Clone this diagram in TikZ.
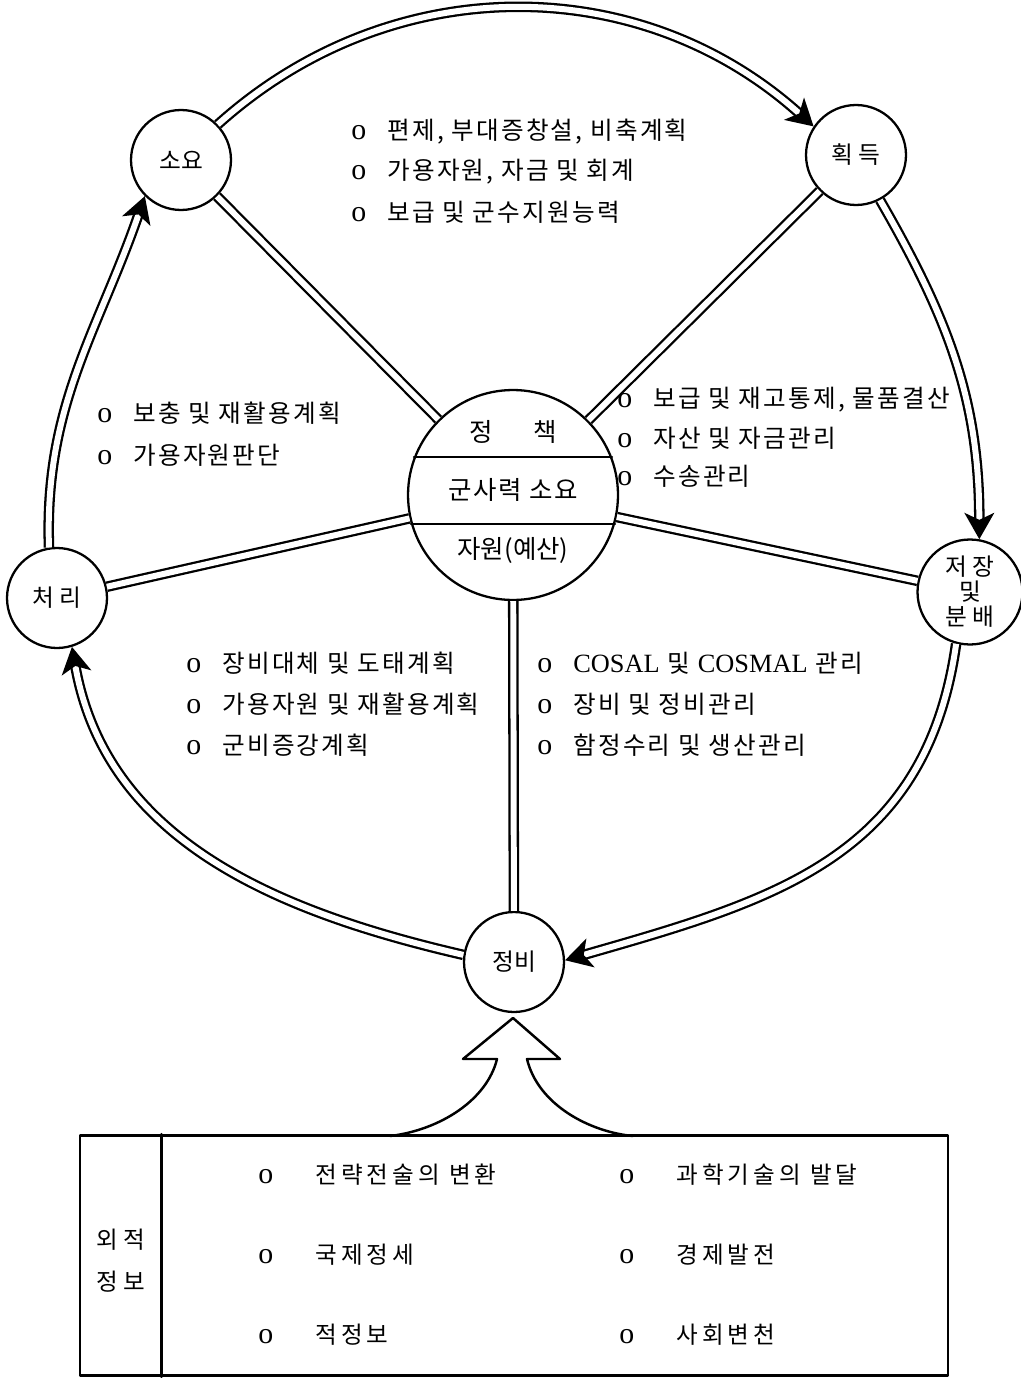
\documentclass[tikz,border=0pt]{standalone}
\usepackage{fontspec}
\setmainfont{Noto Sans CJK KR}
\newfontfamily\latin{Liberation Serif}
\usetikzlibrary{arrows.meta,calc}
\tikzset{
  stage/.style={draw, circle, line width=1.3pt, minimum size=2cm, inner sep=0pt, font=\fontsize{13.5}{14.2}\selectfont},
  spoke/.style={double, double distance=3.4pt, line width=1.3pt, line cap=butt},
  ring/.style={spoke, -{Stealth[length=15pt,width=17pt,inset=4pt]}},
  item/.style={anchor=west, inner sep=0pt, font=\fontsize{14}{16}\selectfont\addfontfeature{LetterSpace=9}},
  boxitem/.style={item, font=\fontsize{13.4}{16}\selectfont\addfontfeature{LetterSpace=17}},
}
\newcommand\itm[1]{{\latin\fontsize{17}{16}\selectfont o}\hspace{12pt}#1}
\newcommand\bitm[1]{{\latin\fontsize{17}{16}\selectfont o}\hspace{24pt}#1}
\begin{document}
\begin{tikzpicture}[x=0.02cm, y=-0.02cm, line join=round, line cap=round, >=Stealth]
\useasboundingbox (0,0) rectangle (1020,1378);
\path
  (181,160) coordinate (S)
  (856,155) coordinate (H)
  (57,598) coordinate (C)
  (970,592) coordinate (J)
  (514,962) coordinate (M)
  (513,495) coordinate (O)
  ;
% stages of the cycle
\node[stage] (soyo) at (S) {소요};
\node[stage] (hoek) at (H) {획 득};
\node[stage] (cheori) at (C) {처 리};
\node[stage, minimum size=2.1cm, align=center] (jeojang) at (J) {저 장\\및\\분 배};
\node[stage] (jeongbi) at (M) {정비};
\node[stage, minimum size=4.2cm] (core) at (O) {};
\draw[line width=1.3pt] (core.159) -- (core.21);
\draw[line width=1.3pt] (core.-164) -- (core.-16);
\node[font=\fontsize{14.5}{16}\selectfont] at (513,432) {정\hspace{1.6em}책};
\node[font=\fontsize{14.5}{16}\selectfont\addfontfeature{LetterSpace=6}] at (513,490) {군사력 소요};
\node[font=\fontsize{14.5}{16}\selectfont] at (513,550) {자원(예산)};
% spokes
\foreach \n in {soyo,hoek,cheori,jeojang,jeongbi}
  \draw[spoke] (core) -- (\n);
% cycle
\draw[ring] (soyo.44) to[out=42,in=138] (hoek.146);
\draw[ring] (hoek.-62) to[out=-60,in=90] (jeojang.80);
\draw[ring] (jeojang.-105) to[out=-98,in=16,looseness=1.1] (jeongbi.2);
\draw[ring] (jeongbi.172) to[out=167,in=-80] (cheori.-73);
\draw[ring] (cheori.99) to[out=92,in=-109] (soyo.225);
% items
\foreach \t [count=\i] in {{편제, 부대증창설, 비축계획},{가용자원, 자금 및 회계},{보급 및 군수지원능력}}
  \node[item] at (351,92+40*\i) {\itm{\t}};
\foreach \t [count=\i] in {{보충 및 재활용계획},{가용자원판단}}
  \node[item] at (97,371+42*\i) {\itm{\t}};
\foreach \t [count=\i] in {{보급 및 재고통제, 물품결산},{자산 및 자금관리},{수송관리}}
  \node[item] at (617,362+38*\i) {\itm{\t}};
\foreach \t [count=\i] in {{장비대체 및 도태계획},{가용자원 및 재활용계획},{군비증강계획}}
  \node[item] at (186,622+41*\i) {\itm{\t}};
\foreach \t [count=\i] in {{{\latin\fontsize{15}{16}\selectfont COSAL} 및 {\latin\fontsize{15}{16}\selectfont COSMAL} 관리},{장비 및 정비관리},{함정수리 및 생산관리}}
  \node[item] at (537,622+41*\i) {\itm{\t}};
% outside information
\node[draw, line width=1.5pt, minimum width=17.36cm, minimum height=4.8cm, inner sep=0pt] (info) at (514,1255.5) {};
\draw[line width=1.5pt] ($(info.north west)+(83,0)$) -- ($(info.south west)+(83,0)$);
\node[font=\fontsize{13.4}{23.8}\selectfont, align=center] at (121,1261) {외 적\\정 보};
\foreach \a/\b [count=\i] in {전략전술의 변환/과학기술의 발달, 국제정세/경제발전, 적정보/사회변천}{
  \node[boxitem] at (258,1095+80*\i) {\bitm{\a}};
  \node[boxitem] at (619,1095+80*\i) {\bitm{\b}};
}
\path
  (513,1018) coordinate (tip)
  (463,1059) coordinate (hl)
  (560,1059) coordinate (hr)
  (497,1059) coordinate (sl)
  (527,1059) coordinate (sr)
  (390,1136) coordinate (bl)
  (633,1136) coordinate (br)
  ;
\draw[line width=1.4pt] (bl) .. controls (440,1130) and (487,1100) .. (sl) -- (hl) -- (tip) -- (hr) -- (sr) .. controls (538,1105) and (590,1132) .. (br);
\end{tikzpicture}
\end{document}
